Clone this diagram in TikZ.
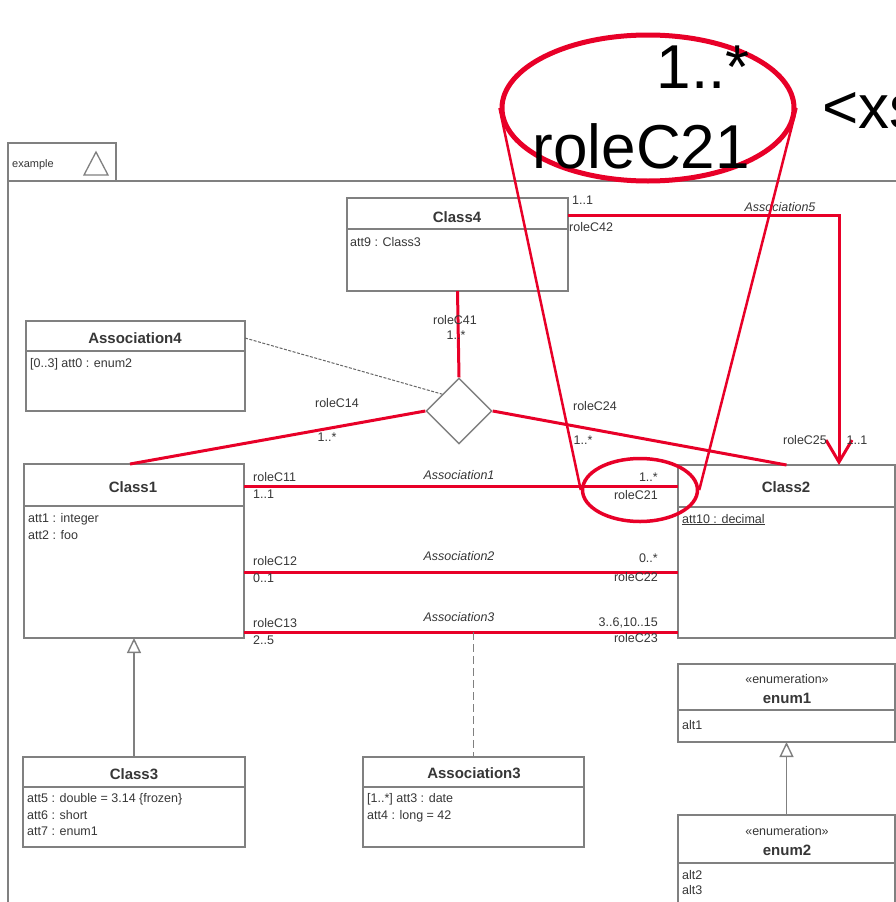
\documentclass[tikz,border=0pt]{standalone}
\usepackage{fontspec}
\setmainfont{Liberation Sans}
\usetikzlibrary{shapes.geometric,arrows.meta}
\definecolor{hl}{RGB}{232,0,40}
\definecolor{bx}{RGB}{128,128,128}
\definecolor{tx}{RGB}{55,55,55}
\newcommand\myfs[1]{\fontsize{#1}{#1}\selectfont}
\begin{document}
\begin{tikzpicture}[x=1pt,y=-1pt,
  box/.style={draw=bx, line width=1.4pt, fill=white, anchor=north west, inner sep=0, outer sep=0},
  sepl/.style={draw=bx, line width=1.4pt},
  lbl/.style={font=\myfs{12.5}, text=tx, inner sep=0, anchor=base west},
  lblr/.style={lbl, anchor=base east},
  lblc/.style={lbl, anchor=base},
  ttl/.style={font=\myfs{15}\bfseries, text=tx, inner sep=0, anchor=base},
  ital/.style={lblc, font=\myfs{12.5}\itshape},
  hlline/.style={draw=hl, line width=3pt},
  genl/.style={draw=bx, line width=1.4pt, -{Triangle[length=15pt,width=14pt,fill=white]}},
  big/.style={font=\myfs{62}, text=black, inner sep=0}
]
\useasboundingbox[fill=white] (0,0) rectangle (896,902);

% package frame
\node[box, minimum width=108pt, minimum height=38pt, fill=none] (tab) at (8,143) {};
\draw[sepl] (8,181) -- (8,910);
\draw[sepl] (116,181) -- (900,181);
\node[lbl, font=\myfs{11}] (pkname) at (12,167) {example};
\draw[sepl, line width=1.3pt] (84,175) -- (96,152) -- (108,175) -- cycle;

% helper coordinates
\coordinate (ya1) at (0,486);
\coordinate (ya2) at (0,572);
\coordinate (ya3) at (0,632);
\coordinate (y5) at (0,215);
\coordinate (x5) at (839,0);
\coordinate (xc1) at (130,0);
\coordinate (ya4) at (0,338);

% Class4
\node[box, minimum width=221pt, minimum height=93pt] (c4) at (347,198) {};
\draw[sepl] (347,229) -- (568,229);
\node[ttl] (c4t) at (457,222) {Class4};
\node[lbl] (c4a) at (350,246) {att9 : Class3};

% Association4
\node[box, minimum width=219pt, minimum height=90pt] (a4) at (26,321) {};
\draw[sepl] (26,351) -- (245,351);
\node[ttl] (a4t) at (135,343) {Association4};
\node[lbl] (a4a) at (30,367) {[0..3] att0 : enum2};

% Class1
\node[box, minimum width=220pt, minimum height=174pt] (c1) at (24,464) {};
\draw[sepl] (24,506) -- (244,506);
\node[ttl] (c1t) at (133,492) {Class1};
\node[lbl] (c1a) at (28,522) {att1 : integer};
\node[lbl] (c1b) at (28,539) {att2 : foo};

% Class2
\node[box, minimum width=217pt, minimum height=173pt] (c2) at (678,465) {};
\draw[sepl] (678,507) -- (895,507);
\node[ttl] (c2t) at (786,492) {Class2};
\node[lbl] (c2a) at (682,523) {\underline{att10 : decimal}};

% Class3
\node[box, minimum width=222pt, minimum height=90pt] (c3) at (23,757) {};
\draw[sepl] (23,787) -- (245,787);
\node[ttl] (c3t) at (134,779) {Class3};
\node[lbl] (c3a) at (27,802) {att5 : double = 3.14 \{frozen\}};
\node[lbl] (c3b) at (27,819) {att6 : short};
\node[lbl] (c3c) at (27,835) {att7 : enum1};

% Association3 class
\node[box, minimum width=221pt, minimum height=90pt] (a3) at (363,757) {};
\draw[sepl] (363,787) -- (584,787);
\node[ttl] (a3t) at (474,778) {Association3};
\node[lbl] (a3a) at (367,802) {[1..*] att3 : date};
\node[lbl] (a3b) at (367,819) {att4 : long = 42};

% enum1
\node[box, minimum width=217pt, minimum height=78pt] (e1) at (678,664) {};
\draw[sepl] (678,710) -- (895,710);
\node[lblc] (e1s) at (787,683) {«enumeration»};
\node[ttl] (e1t) at (787,703) {enum1};
\node[lbl] (e1a) at (682,729) {alt1};

% enum2
\node[box, minimum width=217pt, minimum height=110pt] (e2) at (678,815) {};
\draw[sepl] (678,863) -- (895,863);
\node[lblc] (e2s) at (787,835) {«enumeration»};
\node[ttl] (e2t) at (787,855) {enum2};
\node[lbl] (e2a) at (682,879) {alt2};
\node[lbl] (e2b) at (682,894) {alt3};

% diamond
\node[diamond, draw=bx, line width=1.4pt, minimum width=66pt, minimum height=66pt, inner sep=0, fill=white] (dia) at (459,411) {};

% connectors
\draw[draw=black!60, line width=1pt, dash pattern=on 3pt off 1.5pt] (a4.east |- ya4) -- (dia.north west);
\draw[hlline] (c4.south) -- (dia.north);
\draw[hlline] (dia.west) -- (xc1 |- c1.north);
\draw[hlline] (dia.east) -- (c2.north);
\draw[hlline] (c1.east |- ya1) -- (c2.west |- ya1);
\draw[hlline] (c1.east |- ya2) -- (c2.west |- ya2);
\draw[hlline] (c1.east |- ya3) -- (c2.west |- ya3);
\draw[hlline, -{Straight Barb[length=22pt,width=26pt]}] (c4.east |- y5) -- (x5 |- y5) -- (x5 |- c2.north);
\draw[draw=bx, line width=1.3pt, dash pattern=on 8pt off 4pt] (a3.north |- ya3) -- (a3.north);
\draw[genl] (c3.north) -- (c1.south);
\draw[genl] (e2.north) -- (e1.south);

% connector labels
\node[lbl] (l41a) at (572,204) {1..1};
\node[lbl] (l42) at (569,231) {roleC42};
\node[ital] (as5) at (780,211) {Association5};
\node[lblc] (l41) at (455,324) {roleC41};
\node[lblc] (l41m) at (456,339) {1..*};
\node[lblc] (l14) at (337,407) {roleC14};
\node[lblc] (l14m) at (327,441) {1..*};
\node[lblc] (l24) at (595,410) {roleC24};
\node[lblc] (l24m) at (583,444) {1..*};
\node[lblc] (l25) at (805,444) {roleC25};
\node[lblc] (l25m) at (857,444) {1..1};

\node[lbl] (l11) at (253,481) {roleC11};
\node[lbl] (l11m) at (253,498) {1..1};
\node[ital] (as1) at (459,479) {Association1};
\node[lblr] (l21m) at (658,481) {1..*};
\node[lblr] (l21) at (658,499) {roleC21};

\node[lbl] (l12) at (253,565) {roleC12};
\node[lbl] (l12m) at (253,582) {0..1};
\node[ital] (as2) at (459,560) {Association2};
\node[lblr] (l22m) at (658,562) {0..*};
\node[lblr] (l22) at (658,581) {roleC22};

\node[lbl] (l13) at (253,627) {roleC13};
\node[lbl] (l13m) at (253,644) {2..5};
\node[ital] (as3) at (459,621) {Association3};
\node[lblr] (l23m) at (658,626) {3..6,10..15};
\node[lblr] (l23) at (658,642) {roleC23};

% magnifier
\node[draw=hl, ellipse, line width=3.5pt, minimum width=115pt, minimum height=63pt, inner sep=0] (sm) at (640,490) {};
\node[draw=hl, ellipse, line width=5pt, minimum width=292pt, minimum height=146pt, inner sep=0, fill=white] (mag) at (648,108) {};
\draw[hl, line width=2.5pt] (mag.west) -- (sm.west);
\draw[hl, line width=2.5pt] (mag.east) -- (sm.east);
\node[big, anchor=base east] (bm) at (750,88) {1..*};
\node[big, anchor=base east] (br) at (750,168) {roleC21};
\node[big, anchor=base west] (bx) at (822,128) {<xs};
\end{tikzpicture}
\end{document}
